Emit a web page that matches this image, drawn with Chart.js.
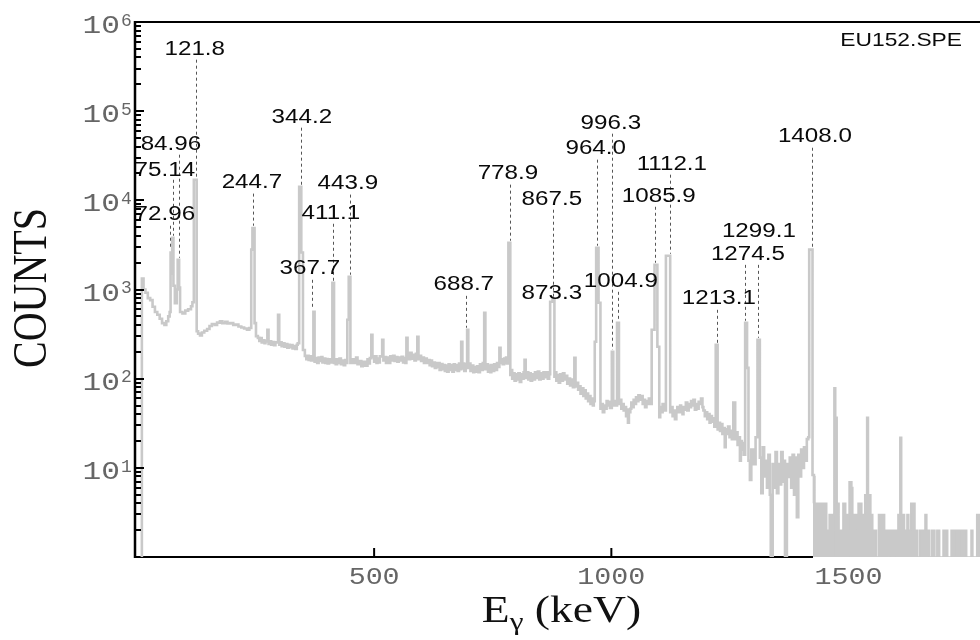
<!DOCTYPE html>
<html><head><meta charset="utf-8">
<script src="https://cdn.jsdelivr.net/npm/chart.js@4.4.1/dist/chart.umd.min.js"></script>
<style>html,body{margin:0;padding:0;background:#fff}canvas{display:block}</style>
</head><body>
<canvas id="c" width="980" height="640"></canvas>
<script>
// Spectrum (energy keV, counts)
const spectrum = [
[9,1],[10.5,1330],[14,1000],[18,920],[23,800],[28,760],[33,640],[38,560],[43,520],[48,470],[53,420],[58,400],[62,440],[66,500],[69,560],
[71,2600],[73,1500],[74.5,3800],[77,1100],[80,700],[84,1000],[86,2150],[89,1050],[91,560],[96,540],[102,580],[108,600],[114,650],[117,720],
[120,17000],[126,340],[129,320],[133,305],[137,330],[142,345],[148,360],[153,390],[158,410],[164,400],[169,425],[175,440],[180,420],[186,435],
[191,415],[197,420],[203,400],[208,405],[214,385],[220,375],[226,365],[232,355],[237,370],[241,2800],[243.5,4900],[248,420],[251,300],[255,287],
[258,265],[260,285],[263,255],[266,270],[269,250],[271,262],[275,353],[277.5,245],[280,262],[283,240],[286,258],[289,238],[292,255],[297.5,520],
[300,240],[303,255],[305,232],[308,250],[311,228],[314,245],[317,222],[320,240],[322,225],[325,238],[328,218],[331,232],[334,215],[337,240],[339,250],
[342,14200],[346.5,2600],[350,210],[354,180],[357,165],[359,180],[362,162],[364,178],[367,160],[369,172],[372,562],[374.5,155],[377,170],[380,150],
[383,172],[386,158],[389,175],[391,152],[394,168],[397,150],[400,166],[402,148],[405,165],[408,152],[412,1190],[415.5,150],[417,165],[419,145],
[422,165],[424,150],[427,168],[430,145],[433,160],[436,142],[439,162],[441,150],[443.5,457],[446.5,1390],[450,150],[454,165],[459,150],[462,172],
[465,145],[470,158],[473,138],[476,155],[481,140],[486,165],[489,148],[491,170],[494,310],[496.5,175],[500,155],[502,178],[505,150],[507,168],
[510,152],[512,178],[517,272],[519.5,160],[522,175],[525,150],[528,172],[531,150],[534,178],[537,160],[540,180],[543,158],[546,175],[549,155],
[552,172],[555,160],[558,176],[561,152],[564,170],[566,150],[568,287],[570.5,185],[573,165],[576,195],[579,168],[582,185],[585,160],[588,190],
[591,295],[593.5,165],[596,180],[599,158],[602,172],[605,150],[608,168],[611,150],[614,162],[617,142],[620,160],[622,138],[625,152],[628,132],
[631,150],[633,135],[636,150],[638,125],[641,146],[644,128],[647,142],[649,122],[652,140],[654,120],[657,145],[659,125],[662,142],[665,120],
[668,145],[670,125],[673,142],[676,122],[679,148],[681,128],[683.5,259],[686,130],[688,148],[690,122],[693,145],[696,353],[698.5,132],[701,148],
[703,122],[706,140],[709,118],[711,135],[714,120],[717,138],[720,118],[723,145],[726,125],[729,150],[732,547],[734.5,128],[737,145],[740,120],
[742,140],[745,118],[747,142],[750,122],[753,145],[756,125],[759,150],[762,135],[764,222],[766.5,150],[769,165],[771,145],[774,168],[776,150],
[778,172],[780,148],[783,3340],[787,110],[789,125],[791,100],[794,115],[796,95],[799,112],[802,98],[804,115],[807,92],[810,112],[813,100],
[815,118],[817,163],[819.5,102],[822,118],[825,98],[828,115],[830,95],[833,112],[836,98],[839,118],[842,102],[845,120],[848,98],[851,115],
[854,100],[857,118],[860,104],[863,118],[866,100],[869,112],[871,730],[876,770],[880,105],[882,118],[884,95],[887,110],[889,90],[892,112],
[895,95],[898,115],[901,98],[904,108],[907,88],[910,100],[913,84],[916,98],[919,80],[922,171],[924.5,82],[927,90],[930,75],[933,82],
[935,68],[938,78],[941,64],[944,74],[946,60],[949,68],[951,56],[954,64],[956,52],[959,60],[961,50],[963,56],[965,259],[968,2940],
[973,710],[977,46],[979,52],[982,42],[985,50],[987,46],[990,56],[992,50],[995,55],[997,47],[1001,200],[1004,50],[1006,56],[1008,50],
[1012,423],[1016,52],[1018,58],[1021,46],[1024,52],[1026,44],[1029,48],[1031,38],[1033,45],[1035,32],[1037,42],[1040,46],[1042,54],[1045,48],
[1047,58],[1050,52],[1052,62],[1055,56],[1057,65],[1060,58],[1063,64],[1066,52],[1068,58],[1071,48],[1074,56],[1077,52],[1079,60],[1082,52],
[1085,353],[1091,1890],[1097,228],[1101,37],[1103,48],[1106,42],[1108,52],[1111,44],[1115,2390],[1124,42],[1126,48],[1129,38],[1131,44],[1134,35],
[1137,44],[1139,48],[1142,42],[1145,50],[1147,44],[1150,40],[1152,48],[1155,45],[1157,54],[1160,44],[1163,52],[1166,48],[1168,56],[1171,50],
[1173,58],[1176,45],[1179,52],[1181,46],[1184,55],[1187,52],[1189,60],[1192,48],[1194,44],[1197,38],[1199,42],[1202,35],[1204,40],[1207,32],
[1209,38],[1212,33],[1214,36],[1217,29],[1220,240],[1224,27],[1226,32],[1229,26],[1231,31],[1234,24],[1236,28],[1239,17],[1241,27],[1244,24],
[1246,29],[1249,22],[1251,26],[1254,21],[1257,54],[1261,21],[1263,25],[1266,18],[1268,22],[1271,12],[1273,20],[1275,16],[1277,19],[1279,14],
[1282,423],[1286,132],[1289,12],[1292,7.3],[1295,16],[1299,11],[1304,22],[1308,272],[1313,13],[1316,5.2],[1319,17],[1322,8],[1325,12],[1328,6],
[1331,14],[1334,5],[1336,1],[1340,11],[1343,6],[1346,15],[1349,5.2],[1352,11],[1355,6.5],[1358,15],[1361,7],[1364,12],[1366,1],[1370,11],
[1373,7.9],[1376,13],[1379,6],[1382,14],[1385,5],[1388,13],[1391,2.8],[1394,14],[1397,8],[1400,16],[1403,10],[1406,17],[1409,12],[1412,21],
[1415,22],[1417,2800],[1424,8.3],[1427,4]
];
// High-energy tail (energy keV, counts), drawn filled to the floor
const tailE = [1425,1429,1440,1454,1459,1467,1469,1473,1476,1480,1488,1494,1499,1501,1507,1509,1518,1520,1528,1534,1538,1542,1547,1551,1559,1563,1576,1585,1587,1595,1597,1604,1608,1612,1618,1623,1627,1631,1640,1646,1650,1661,1665,1671,1675,1682,1686,1692,1699,1709,1716,1727,1729,1738,1740,1749,1758,1762,1770,1777];
const tailC = [8,4,4,2,3,1,79,37,4,2,4,3,1,7,6,3,2,4,3,5,37,5,3,2,1,3,2,1,2,1,2,3,22,3,2,3,2,4,2,1,2,3,2,1,2,1,2,1,2,1,2,1,2,1,2,1,2,1,3,3];

// Peak labels
const peakNames  = ['121.8','84.96','75.14','72.96','344.2','244.7','443.9','411.1','367.7','688.7','778.9','867.5','873.3','964.0','996.3','1004.9','1112.1','1085.9','1213.1','1274.5','1299.1','1408.0'];
const labelE     = [122,71.7,59,59,347.7,242.4,444.7,408.9,364.6,689,782,874.6,874.6,967,999,1020,1127.5,1100,1226.6,1287.8,1311,1429];
const labelCount = [4.9e5,4.2e4,2.15e4,6900,8.46e4,1.58e4,1.54e4,7080,1710,1130,1.99e4,1.02e4,895,3.79e4,7.24e4,1250,2.51e4,1.10e4,787,2450,4440,5.18e4];
const dashE      = [124,88.5,76,70.6,345.6,244.5,448.9,413.1,368.8,693.4,786,876.7,null,969.5,1001,1013.7,1123.3,1091.7,1222.4,1281.5,1308.9,1422.6];
const dashFrom   = [3.78e5,3.25e4,1.7e4,5190,6.53e4,1.19e4,1.16e4,5460,1285,849,1.5e4,7850,null,2.86e4,5.59e4,942,1.94e4,8470,592,1890,1890,3.89e4];
const dashTo     = [1.79e4,2270,4000,2790,1.5e4,5190,1460,1250,592,372,3520,807,null,3090,210,445,2520,1990,252,445,287,2940];

const xTicks = [500,1000,1500];
const yExps = [1,2,3,4,5,6];
const fileTag = 'EU152.SPE';

const GRAY = '#c9c9c9';

const frame = {
  id: 'frame',
  beforeDatasetsDraw(chart) {
    const {ctx, chartArea: a, scales: {x}} = chart;
    ctx.save();
    ctx.strokeStyle = '#000'; ctx.lineWidth = 2;
    const xEnd = x.getPixelForValue(tailE[0]);
    ctx.beginPath(); ctx.moveTo(a.left, a.bottom); ctx.lineTo(xEnd, a.bottom); ctx.stroke();
    xTicks.forEach(v => {
      const px = x.getPixelForValue(v);
      if (px < xEnd) { ctx.beginPath(); ctx.moveTo(px, a.bottom); ctx.lineTo(px, a.bottom - 9); ctx.stroke(); }
    });
    ctx.restore();
  },
  afterDatasetsDraw(chart) {
    const {ctx, chartArea: a, scales: {x, y}} = chart;
    ctx.save();
    // dashed leader lines
    ctx.strokeStyle = '#555'; ctx.lineWidth = 1; ctx.setLineDash([3, 3]);
    dashE.forEach((e, i) => {
      if (e === null) return;
      const px = Math.round(x.getPixelForValue(e)) + 0.5;
      ctx.beginPath(); ctx.moveTo(px, y.getPixelForValue(dashFrom[i])); ctx.lineTo(px, y.getPixelForValue(dashTo[i])); ctx.stroke();
    });
    ctx.setLineDash([]);
    // peak labels
    ctx.fillStyle = '#0a0a0a';
    ctx.font = '20.5px "Liberation Sans", Arial, sans-serif';
    ctx.textAlign = 'center'; ctx.textBaseline = 'middle';
    peakNames.forEach((t, i) => {
      ctx.save();
      ctx.translate(x.getPixelForValue(labelE[i]), y.getPixelForValue(labelCount[i]));
      ctx.scale(1.18, 1);
      ctx.fillText(t, 0, 0);
      ctx.restore();
    });
    // file tag
    ctx.save();
    ctx.translate(a.right - 18, a.top + 19);
    ctx.scale(1.2, 1);
    ctx.textAlign = 'right';
    ctx.font = '19px "Liberation Sans", Arial, sans-serif';
    ctx.fillText(fileTag, 0, 0);
    ctx.restore();

    // frame: left axis and top
    ctx.strokeStyle = '#000';
    ctx.lineWidth = 2;
    ctx.beginPath(); ctx.moveTo(a.left, a.top); ctx.lineTo(a.right, a.top); ctx.stroke();
    ctx.lineWidth = 2.5;
    ctx.beginPath(); ctx.moveTo(a.left, a.top - 1); ctx.lineTo(a.left, a.bottom + 1); ctx.stroke();
    // y ticks (log)
    ctx.lineWidth = 2;
    for (let k = 0; k < 6; k++) {
      for (let m = 1; m <= 9; m++) {
        if (k === 0 && m === 1) continue;
        const v = m * Math.pow(10, k);
        const py = Math.round(y.getPixelForValue(v));
        ctx.beginPath(); ctx.moveTo(a.left, py); ctx.lineTo(a.left + (m === 1 ? 9 : 6), py); ctx.stroke();
      }
    }
    // y tick labels
    ctx.fillStyle = '#666';
    yExps.forEach(k => {
      const py = y.getPixelForValue(Math.pow(10, k));
      ctx.save();
      ctx.translate(a.left - 15, py + 11);
      ctx.scale(1.2, 1);
      ctx.font = '26px "Liberation Mono", "Courier New", monospace';
      ctx.textAlign = 'right'; ctx.textBaseline = 'alphabetic';
      ctx.fillText('10', 0, 0);
      ctx.restore();
      ctx.font = '18px "Liberation Mono", "Courier New", monospace';
      ctx.textAlign = 'left';
      ctx.fillText(String(k), a.left - 14, py - 1);
    });
    // x tick labels
    xTicks.forEach(v => {
      ctx.save();
      ctx.translate(x.getPixelForValue(v), a.bottom + 27);
      ctx.scale(1.18, 1);
      ctx.font = '24px "Liberation Mono", "Courier New", monospace';
      ctx.textAlign = 'center'; ctx.textBaseline = 'alphabetic';
      ctx.fillText(String(v), 0, 0);
      ctx.restore();
    });

    // axis titles
    ctx.fillStyle = '#111';
    ctx.save();
    ctx.translate(33, 288);
    ctx.rotate(-Math.PI / 2);
    ctx.scale(1, 1.2);
    ctx.font = '40px "Liberation Serif", "Times New Roman", serif';
    ctx.textAlign = 'center'; ctx.textBaseline = 'middle';
    ctx.fillText('COUNTS', 0, 0);
    ctx.restore();

    ctx.save();
    const big = '38px "Liberation Serif", "Times New Roman", serif';
    const small = '26px "Liberation Serif", "Times New Roman", serif';
    ctx.font = big; const wE = ctx.measureText('E').width; const wR = ctx.measureText(' (keV)').width;
    ctx.font = small; const wG = ctx.measureText('γ').width;
    const total = wE + wG + wR;
    ctx.translate((a.left + a.right) / 2 + 4, 622);
    ctx.scale(1.2, 1);
    ctx.textAlign = 'left'; ctx.textBaseline = 'alphabetic';
    let cx = -total / 2;
    ctx.font = big; ctx.fillText('E', cx, 0); cx += wE;
    ctx.font = small; ctx.fillText('γ', cx, 8); cx += wG;
    ctx.font = big; ctx.fillText(' (keV)', cx, 0);
    ctx.restore();

    ctx.restore();
  }
};

new Chart(document.getElementById('c'), {
  type: 'line',
  data: {
    datasets: [
      { data: spectrum.map(p => ({x: p[0], y: p[1]})), stepped: true, borderColor: GRAY, borderWidth: 2.6, fill: false, pointRadius: 0 },
      { data: tailE.map((e, i) => ({x: e, y: tailC[i]})), stepped: true, borderColor: GRAY, backgroundColor: GRAY, borderWidth: 1.5, fill: 'start', pointRadius: 0 }
    ]
  },
  options: {
    responsive: false, animation: false, devicePixelRatio: 1,
    layout: { padding: { left: 135, top: 22, right: 0, bottom: 83 } },
    scales: {
      x: { type: 'linear', min: -4, max: 1777, display: false },
      y: { type: 'logarithmic', min: 1, max: 1e6, display: false }
    },
    plugins: { legend: { display: false }, tooltip: { enabled: false } },
    elements: { line: { tension: 0 } }
  },
  plugins: [frame]
});
</script>
</body></html>
